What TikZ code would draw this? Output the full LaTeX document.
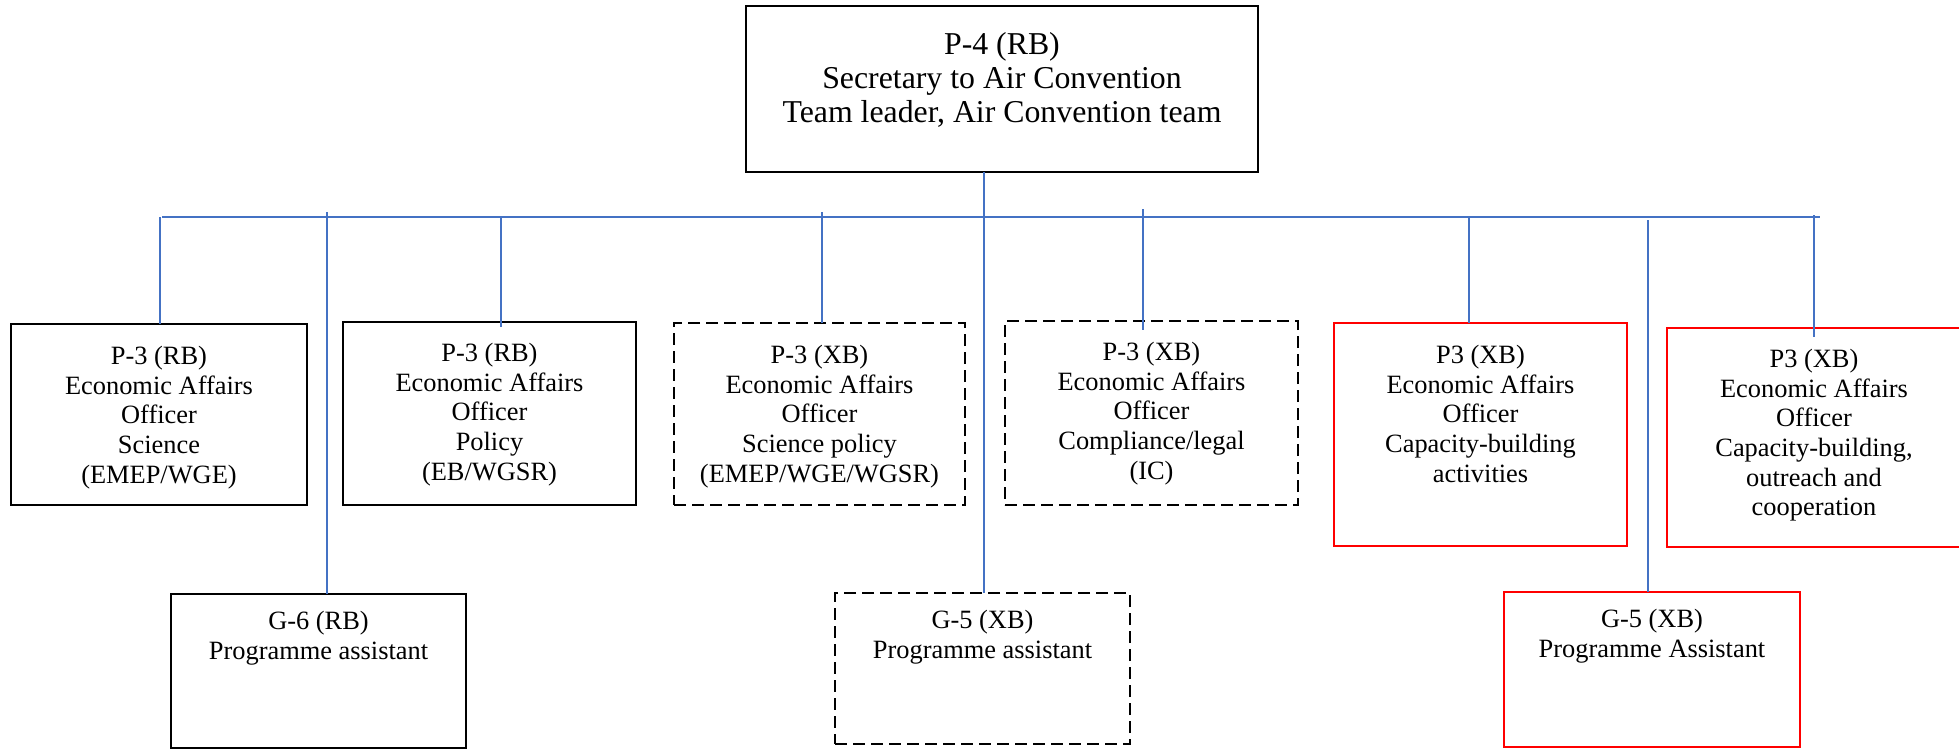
\documentclass[tikz,border=0pt]{standalone}
\usepackage{fontspec}
\setmainfont{Liberation Serif}
\newfontfamily\orgfont{Liberation Serif}
\usetikzlibrary{fit}
\definecolor{linkblue}{RGB}{68,114,196}
\definecolor{postred}{RGB}{255,0,0}
\begin{document}
\begin{tikzpicture}[x=0.5pt,y=-0.5pt,
  post/.style={draw=black,line width=1pt,inner sep=0pt,outer sep=0pt},
  xbpost/.style={post,dash pattern=on 5.8pt off 3.2pt},
  newpost/.style={post,draw=postred},
  posttext/.style={inner sep=0pt,align=center,anchor=north,
    font=\orgfont\fontsize{13.2}{14.8}\selectfont},
  headtext/.style={posttext,font=\orgfont\fontsize{15.9}{17.1}\selectfont},
  link/.style={draw=linkblue,line width=0.8pt}]
\useasboundingbox (0,0) rectangle (1959,750);

% head of team
\node[post,fit={(746,6) (1258,172)}] (head) {};
\node[headtext] (headtxt) at ([yshift=-12.9pt]head.north)
  {P-4 (RB)\\Secretary to Air Convention\\Team leader, Air Convention team};

% first row of posts
\node[post,fit={(11,324) (307,505)}] (sci) {};
\node[posttext] (scitxt) at ([yshift=-11pt]sci.north)
  {P-3 (RB)\\Economic Affairs\\Officer\\Science\\(EMEP/WGE)};

\node[post,fit={(343,322) (636,505)}] (pol) {};
\node[posttext] (poltxt) at ([yshift=-10.5pt]pol.north)
  {P-3 (RB)\\Economic Affairs\\Officer\\Policy\\(EB/WGSR)};

\node[xbpost,fit={(674,323) (965,505)}] (scipol) {};
\node[posttext] (scipoltxt) at ([yshift=-11pt]scipol.north)
  {P-3 (XB)\\Economic Affairs\\Officer\\Science policy\\(EMEP/WGE/WGSR)};

\node[xbpost,fit={(1005,321) (1298,505)}] (comp) {};
\node[posttext] (comptxt) at ([yshift=-10.5pt]comp.north)
  {P-3 (XB)\\Economic Affairs\\Officer\\Compliance/legal\\(IC)};

\node[newpost,fit={(1334,323) (1627,546)}] (cap) {};
\node[posttext] (captxt) at ([yshift=-11pt]cap.north)
  {P3 (XB)\\Economic Affairs\\Officer\\Capacity-building\\activities};

\node[newpost,fit={(1667,328) (1961,547)}] (out) {};
\node[posttext] (outtxt) at ([yshift=-10.5pt]out.north)
  {P3 (XB)\\Economic Affairs\\Officer\\Capacity-building,\\outreach and\\cooperation};

% second row: programme assistants
\node[post,fit={(171,594) (466,748)}] (ga) {};
\node[posttext] (gatxt) at ([yshift=-8.5pt]ga.north)
  {G-6 (RB)\\Programme assistant};

\node[xbpost,fit={(835,593) (1130,744)}] (gb) {};
\node[posttext] (gbtxt) at ([yshift=-8.5pt]gb.north)
  {G-5 (XB)\\Programme assistant};

\node[newpost,fit={(1504,592) (1800,747)}] (gc) {};
\node[posttext] (gctxt) at ([yshift=-8.5pt]gc.north)
  {G-5 (XB)\\Programme Assistant};

% branch points on the distribution line
\coordinate (barL) at (162,217);
\coordinate (barR) at (1820,217);
\coordinate (tsci) at (160,217);
\coordinate (tga) at (327,212);
\coordinate (tpol) at (501,217);
\coordinate (tscipol) at (822,212);
\coordinate (tcomp) at (1143,209);
\coordinate (tcap) at (1469,217);
\coordinate (tgc) at (1648,220);
\coordinate (tout) at (1814,215);
\coordinate (stem) at (984,172);

% connectors
\draw[link] (barL) -- (barR);
\draw[link] (stem) -- (stem |- gb.north);
\draw[link] (tsci) -- (tsci |- sci.north);
\draw[link] (tga) -- (tga |- ga.north);
\draw[link] (tpol) -- ([yshift=-2.5pt]tpol |- pol.north);
\draw[link] (tscipol) -- (tscipol |- scipol.north);
\draw[link] (tcomp) -- ([yshift=-4.5pt]tcomp |- comp.north);
\draw[link] (tcap) -- (tcap |- cap.north);
\draw[link] (tgc) -- (tgc |- gc.north);
\draw[link] (tout) -- ([yshift=-4.5pt]tout |- out.north);
\end{tikzpicture}
\end{document}
